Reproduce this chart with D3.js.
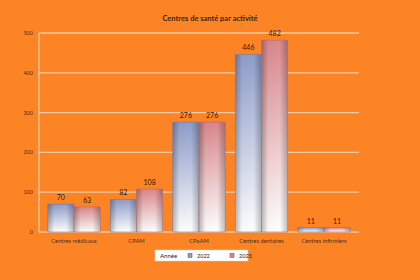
<!DOCTYPE html>
<html>
<head>
<meta charset="utf-8">
<script src="https://cdn.jsdelivr.net/npm/d3@7"></script>
<style>
  body { margin: 0; background: #fd8424; }
  svg { display: block; font-family: Lato, "Open Sans", sans-serif; }
</style>
</head>
<body>
<div id="chart"></div>
<script>
var categories = ["Centres médicaux", "CPAM", "CPoAM", "Centres dentaires", "Centres infirmiers"];
var years = ["2022", "2023"];
var values2022 = [70, 82, 276, 446, 11];
var values2023 = [63, 108, 276, 482, 11];
var yTicks = [0, 100, 200, 300, 400, 500];

var width = 420, height = 280;
var margin = {top: 33, right: 61, bottom: 48, left: 39};
var colors = {"2022": "#8e9cc9", "2023": "#d9878b"};

var svg = d3.select("#chart").append("svg")
    .attr("width", width)
    .attr("height", height);

svg.append("rect")
    .attr("width", width).attr("height", height)
    .attr("fill", "#fd8424");

var defs = svg.append("defs");
years.forEach(function(yr) {
    var grad = defs.append("linearGradient")
        .attr("id", "grad" + yr)
        .attr("x1", 0).attr("y1", 0).attr("x2", 0).attr("y2", 1);
    grad.append("stop").attr("offset", "0%").attr("stop-color", colors[yr]);
    grad.append("stop").attr("offset", "100%").attr("stop-color", "#ffffff");
});
// side shading for the cylinder look
var shade = defs.append("linearGradient")
    .attr("id", "shade")
    .attr("x1", 0).attr("y1", 0).attr("x2", 1).attr("y2", 0);
shade.append("stop").attr("offset", "0%").attr("stop-color", "#000").attr("stop-opacity", 0.28);
shade.append("stop").attr("offset", "25%").attr("stop-color", "#000").attr("stop-opacity", 0.02);
shade.append("stop").attr("offset", "70%").attr("stop-color", "#000").attr("stop-opacity", 0);
shade.append("stop").attr("offset", "100%").attr("stop-color", "#000").attr("stop-opacity", 0.25);

var x = d3.scaleBand()
    .domain(categories)
    .range([margin.left, width - margin.right])
    .paddingInner(0.16)
    .paddingOuter(0.14);

var xs = d3.scaleBand()
    .domain(years)
    .range([0, x.bandwidth()]);

var y = d3.scaleLinear()
    .domain([0, 500])
    .range([height - margin.bottom, margin.top]);

// Title
svg.append("text")
    .attr("x", 210)
    .attr("y", 21)
    .attr("text-anchor", "middle")
    .attr("font-size", 7.5)
    .attr("font-weight", "bold")
    .attr("fill", "#3a2412")
    .text("Centres de santé par activité");

// Grid lines
svg.append("g")
    .selectAll("line")
    .data(yTicks)
    .join("line")
    .attr("x1", margin.left)
    .attr("x2", width - margin.right)
    .attr("y1", function(d) { return y(d); })
    .attr("y2", function(d) { return y(d); })
    .attr("stroke", "#f7c9a2")
    .attr("stroke-width", 1.3);

// Left axis line
svg.append("line")
    .attr("x1", margin.left).attr("x2", margin.left)
    .attr("y1", y(500)).attr("y2", y(0))
    .attr("stroke", "#f7c9a2")
    .attr("stroke-width", 1.3);

// Y tick labels
svg.append("g")
    .selectAll("text")
    .data(yTicks)
    .join("text")
    .attr("x", margin.left - 6)
    .attr("y", function(d) { return y(d) + 2; })
    .attr("text-anchor", "end")
    .attr("font-size", 5.5)
    .attr("fill", "#4a3020")
    .text(function(d) { return d; });

var rows = [];
categories.forEach(function(c, i) {
    rows.push({cat: c, year: "2022", value: values2022[i]});
    rows.push({cat: c, year: "2023", value: values2023[i]});
});

var bars = svg.append("g")
    .selectAll("g")
    .data(rows)
    .join("g")
    .attr("transform", function(d) { return "translate(" + (x(d.cat) + xs(d.year)) + ",0)"; });

bars.append("rect")
    .attr("y", function(d) { return y(d.value); })
    .attr("width", xs.bandwidth())
    .attr("height", function(d) { return y(0) - y(d.value); })
    .attr("fill", function(d) { return "url(#grad" + d.year + ")"; });

bars.append("rect")
    .attr("y", function(d) { return y(d.value); })
    .attr("width", xs.bandwidth())
    .attr("height", function(d) { return y(0) - y(d.value); })
    .attr("fill", "url(#shade)")
    .attr("stroke", function(d) { return d.year == "2022" ? "#6f7ca8" : "#b8686c"; })
    .attr("stroke-width", 0.6);

bars.append("text")
    .attr("x", xs.bandwidth() / 2)
    .attr("y", function(d) { return y(d.value) - 4; })
    .attr("text-anchor", "middle")
    .attr("font-size", 7)
    .attr("fill", "#2a1a10")
    .text(function(d) { return d.value; });

// Category labels
svg.append("g")
    .selectAll("text")
    .data(categories)
    .join("text")
    .attr("x", function(d) { return x(d) + x.bandwidth() / 2; })
    .attr("y", y(0) + 11)
    .attr("text-anchor", "middle")
    .attr("font-size", 5.8)
    .attr("fill", "#4a3020")
    .text(function(d) { return d; });

// Legend
var legend = svg.append("g").attr("transform", "translate(155,250)");
legend.append("rect")
    .attr("width", 93).attr("height", 11)
    .attr("fill", "#ffffff")
    .attr("stroke", "#e0d0c0")
    .attr("stroke-width", 0.5);
legend.append("text")
    .attr("x", 5).attr("y", 7.8)
    .attr("font-size", 6)
    .attr("fill", "#222")
    .text("Année");
years.forEach(function(yr, i) {
    var lx = 33 + i * 42;
    legend.append("rect")
        .attr("x", lx).attr("y", 3.5)
        .attr("width", 4).attr("height", 4)
        .attr("fill", colors[yr])
        .attr("stroke", "#555").attr("stroke-width", 0.5);
    legend.append("text")
        .attr("x", lx + 9).attr("y", 7.8)
        .attr("font-size", 5.5)
        .attr("fill", "#222")
        .text(yr);
});
</script>
</body>
</html>
